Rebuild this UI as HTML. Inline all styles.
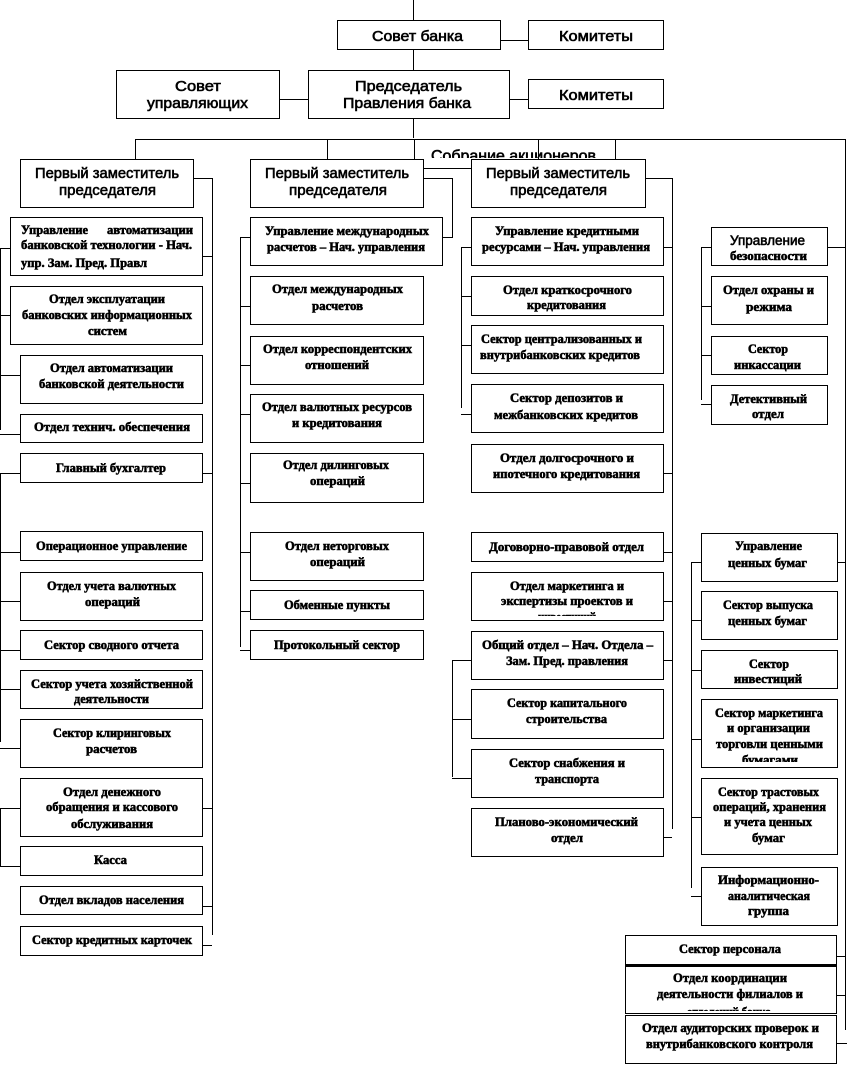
<!DOCTYPE html>
<html><head><meta charset="utf-8"><style>
html,body{margin:0;padding:0;background:#fff}
svg{display:block}
.s text{font-family:"Liberation Serif",serif;font-weight:bold;font-size:12.5px;fill:#000;stroke:#000;stroke-width:.55}
.b text{font-family:"Liberation Sans",sans-serif;font-size:15px;fill:#000;stroke:#000;stroke-width:.6}
</style></head><body>
<svg width="847" height="1066" viewBox="0 0 847 1066" xmlns="http://www.w3.org/2000/svg">
<rect width="847" height="1066" fill="#fff"/>
<g class="b"><text x="431" y="161" textLength="165" lengthAdjust="spacingAndGlyphs" style="font-size:16px">Собрание акционеров</text></g>
<rect x="424" y="158" width="200" height="12" fill="#fff"/>
<g class="s">
<text x="538" y="621" textLength="58" lengthAdjust="spacingAndGlyphs">инвестиций</text>
<text x="742" y="764" textLength="56" lengthAdjust="spacingAndGlyphs">бумагами</text>
<text x="687" y="1016" textLength="84" lengthAdjust="spacingAndGlyphs">отделений банка</text>
</g>
<rect x="530" y="616" width="75" height="8" fill="#fff"/>
<rect x="735" y="762" width="70" height="8" fill="#fff"/>
<rect x="680" y="1011" width="100" height="8" fill="#fff"/>
<g fill="none" stroke="#000" stroke-width="1" shape-rendering="crispEdges">
<path d="M413.5 0V20M413.5 49V70M413.5 118V138M500 40.5H528M279 99.5H308M509 99.5H528"/>
<path d="M135 139.5H845.5V1030M135.5 139V159M327.5 139V159M414.5 139V159M538.5 139V159M615.5 139V159M423 168.5H471"/>
<path d="M193 178.5H212.5V935M203 256.5H212M203 473.5H212M203 808.5H212M203 906.5H212M203 945.5H212"/>
<path d="M10 248.5H.5V430M0 315.5H10M0 375.5H20M0 434.5H20M20 473.5H.5V742M0 552.5H20M0 601.5H20M0 650.5H20M0 689.5H20M0 748.5H20M20 808.5H.5V866.5H20"/>
<path d="M423 178.5H452.5V237.5H442"/>
<path d="M250 237.5H240.5V647M240 306.5H250M240 365.5H250M240 414.5H250M240 483.5H250M240 552.5H250M240 611.5H250M240 650.5H250"/>
<path d="M471 247.5H461.5V408M461 296.5H471M461 345.5H471M461 414.5H471"/>
<path d="M645 178.5H672.5V829M663 247.5H672M663 473.5H672M663 552.5H672M663 601.5H672M663 660.5H672M663 837.5H672"/>
<path d="M471 660.5H452.5V777M452 719.5H471M452 778.5H471"/>
<path d="M711 247.5H701.5V400M701 306.5H711M701 355.5H711M701 404.5H711M827 247.5H845"/>
<path d="M701 562.5H691.5V888M691 620.5H701M691 670.5H701M691 739.5H701M691 817.5H701M691 896.5H701M837 562.5H845"/>
<path d="M836 956.5H845M836 995.5H845M836 1043.5H847"/>
</g>
<g fill="#fff" fill-opacity="0" stroke="#000" stroke-width="1" shape-rendering="crispEdges">
<rect x="337.5" y="20.5" width="163" height="29"/>
<rect x="528.5" y="20.5" width="135" height="29"/>
<rect x="116.5" y="70.5" width="163" height="48"/>
<rect x="308.5" y="70.5" width="201" height="48"/>
<rect x="528.5" y="79.5" width="135" height="29"/>
<rect x="20.5" y="159.5" width="173" height="48"/>
<rect x="250.5" y="159.5" width="173" height="48"/>
<rect x="471.5" y="159.5" width="174" height="48"/>
<rect x="10.5" y="217.5" width="192" height="58"/>
<rect x="10.5" y="286.5" width="192" height="58"/>
<rect x="20.5" y="355.5" width="182" height="48"/>
<rect x="20.5" y="414.5" width="182" height="28"/>
<rect x="20.5" y="453.5" width="182" height="29"/>
<rect x="20.5" y="531.5" width="182" height="29"/>
<rect x="20.5" y="572.5" width="182" height="48"/>
<rect x="20.5" y="630.5" width="182" height="29"/>
<rect x="20.5" y="670.5" width="182" height="38"/>
<rect x="20.5" y="719.5" width="182" height="48"/>
<rect x="20.5" y="778.5" width="182" height="58"/>
<rect x="20.5" y="846.5" width="182" height="29"/>
<rect x="20.5" y="886.5" width="182" height="28"/>
<rect x="20.5" y="926.5" width="182" height="29"/>
<rect x="250.5" y="217.5" width="192" height="48"/>
<rect x="250.5" y="276.5" width="173" height="48"/>
<rect x="250.5" y="336.5" width="173" height="48"/>
<rect x="250.5" y="394.5" width="173" height="48"/>
<rect x="250.5" y="453.5" width="173" height="49"/>
<rect x="250.5" y="532.5" width="173" height="48"/>
<rect x="250.5" y="590.5" width="173" height="29"/>
<rect x="250.5" y="630.5" width="173" height="29"/>
<rect x="471.5" y="217.5" width="192" height="48"/>
<rect x="471.5" y="276.5" width="192" height="39"/>
<rect x="471.5" y="325.5" width="192" height="48"/>
<rect x="471.5" y="384.5" width="192" height="48"/>
<rect x="471.5" y="444.5" width="192" height="48"/>
<rect x="471.5" y="532.5" width="192" height="29"/>
<rect x="471.5" y="572.5" width="192" height="48"/>
<rect x="471.5" y="631.5" width="192" height="48"/>
<rect x="471.5" y="689.5" width="192" height="49"/>
<rect x="471.5" y="749.5" width="192" height="48"/>
<rect x="471.5" y="808.5" width="192" height="48"/>
<rect x="711.5" y="227.5" width="116" height="38"/>
<rect x="711.5" y="276.5" width="116" height="48"/>
<rect x="711.5" y="336.5" width="116" height="38"/>
<rect x="711.5" y="385.5" width="116" height="39"/>
<rect x="701.5" y="533.5" width="136" height="48"/>
<rect x="701.5" y="591.5" width="136" height="48"/>
<rect x="701.5" y="650.5" width="136" height="38"/>
<rect x="701.5" y="699.5" width="136" height="68"/>
<rect x="701.5" y="778.5" width="136" height="76"/>
<rect x="701.5" y="867.5" width="136" height="58"/>
<rect x="625.5" y="935.5" width="211" height="29"/>
<path d="M625 965.5H837"/>
<rect x="625.5" y="966.5" width="211" height="47"/>
<rect x="625.5" y="1015.5" width="211" height="48"/>
</g>
<g class="b">
<text x="372" y="41" textLength="91" lengthAdjust="spacingAndGlyphs">Совет банка</text>
<text x="559" y="41" textLength="74" lengthAdjust="spacingAndGlyphs">Комитеты</text>
<text x="559" y="100" textLength="74" lengthAdjust="spacingAndGlyphs">Комитеты</text>
<text x="175" y="91" textLength="46" lengthAdjust="spacingAndGlyphs">Совет</text>
<text x="147" y="108" textLength="101" lengthAdjust="spacingAndGlyphs">управляющих</text>
<text x="355" y="91" textLength="107" lengthAdjust="spacingAndGlyphs">Председатель</text>
<text x="343" y="108" textLength="128" lengthAdjust="spacingAndGlyphs">Правления банка</text>
<text x="35" y="178" textLength="144" lengthAdjust="spacingAndGlyphs">Первый заместитель</text>
<text x="59" y="195" textLength="97" lengthAdjust="spacingAndGlyphs">председателя</text>
<text x="265" y="178" textLength="144" lengthAdjust="spacingAndGlyphs">Первый заместитель</text>
<text x="289" y="195" textLength="98" lengthAdjust="spacingAndGlyphs">председателя</text>
<text x="486" y="178" textLength="144" lengthAdjust="spacingAndGlyphs">Первый заместитель</text>
<text x="510" y="195" textLength="97" lengthAdjust="spacingAndGlyphs">председателя</text>
<text x="730" y="245" textLength="75" lengthAdjust="spacingAndGlyphs" style="font-size:14px">Управление</text>
</g>
<g class="s">
<text x="21" y="234" textLength="67" lengthAdjust="spacingAndGlyphs">Управление</text>
<text x="107" y="234" textLength="86" lengthAdjust="spacingAndGlyphs">автоматизации</text>
<text x="21" y="249" textLength="171" lengthAdjust="spacingAndGlyphs">банковской технологии - Нач.</text>
<text x="21" y="267" textLength="126" lengthAdjust="spacingAndGlyphs">упр. Зам. Пред. Правл</text>
<text x="49" y="303" textLength="116" lengthAdjust="spacingAndGlyphs">Отдел эксплуатации</text>
<text x="22" y="319" textLength="170" lengthAdjust="spacingAndGlyphs">банковских информационных</text>
<text x="88" y="335" textLength="39" lengthAdjust="spacingAndGlyphs">систем</text>
<text x="50" y="372" textLength="123" lengthAdjust="spacingAndGlyphs">Отдел автоматизации</text>
<text x="39" y="388" textLength="145" lengthAdjust="spacingAndGlyphs">банковской деятельности</text>
<text x="34" y="431" textLength="156" lengthAdjust="spacingAndGlyphs">Отдел технич. обеспечения</text>
<text x="56" y="472" textLength="110" lengthAdjust="spacingAndGlyphs">Главный бухгалтер</text>
<text x="36" y="550" textLength="151" lengthAdjust="spacingAndGlyphs">Операционное управление</text>
<text x="47" y="590" textLength="129" lengthAdjust="spacingAndGlyphs">Отдел учета валютных</text>
<text x="85" y="606" textLength="55" lengthAdjust="spacingAndGlyphs">операций</text>
<text x="44" y="649" textLength="135" lengthAdjust="spacingAndGlyphs">Сектор сводного отчета</text>
<text x="31" y="688" textLength="162" lengthAdjust="spacingAndGlyphs">Сектор учета хозяйственной</text>
<text x="74" y="703" textLength="75" lengthAdjust="spacingAndGlyphs">деятельности</text>
<text x="53" y="737" textLength="118" lengthAdjust="spacingAndGlyphs">Сектор клиринговых</text>
<text x="86" y="753" textLength="51" lengthAdjust="spacingAndGlyphs">расчетов</text>
<text x="63" y="796" textLength="98" lengthAdjust="spacingAndGlyphs">Отдел денежного</text>
<text x="46" y="811" textLength="132" lengthAdjust="spacingAndGlyphs">обращения и кассового</text>
<text x="71" y="828" textLength="82" lengthAdjust="spacingAndGlyphs">обслуживания</text>
<text x="94" y="864" textLength="33" lengthAdjust="spacingAndGlyphs">Касса</text>
<text x="39" y="904" textLength="145" lengthAdjust="spacingAndGlyphs">Отдел вкладов населения</text>
<text x="32" y="944" textLength="160" lengthAdjust="spacingAndGlyphs">Сектор кредитных карточек</text>

<text x="265" y="235" textLength="164" lengthAdjust="spacingAndGlyphs">Управление международных</text>
<text x="267" y="251" textLength="158" lengthAdjust="spacingAndGlyphs">расчетов – Нач. управления</text>
<text x="272" y="293" textLength="131" lengthAdjust="spacingAndGlyphs">Отдел международных</text>
<text x="312" y="310" textLength="51" lengthAdjust="spacingAndGlyphs">расчетов</text>
<text x="263" y="353" textLength="149" lengthAdjust="spacingAndGlyphs">Отдел корреспондентских</text>
<text x="305" y="369" textLength="64" lengthAdjust="spacingAndGlyphs">отношений</text>
<text x="262" y="411" textLength="150" lengthAdjust="spacingAndGlyphs">Отдел валютных ресурсов</text>
<text x="292" y="427" textLength="90" lengthAdjust="spacingAndGlyphs">и кредитования</text>
<text x="283" y="469" textLength="106" lengthAdjust="spacingAndGlyphs">Отдел дилинговых</text>
<text x="310" y="485" textLength="55" lengthAdjust="spacingAndGlyphs">операций</text>
<text x="285" y="550" textLength="104" lengthAdjust="spacingAndGlyphs">Отдел неторговых</text>
<text x="310" y="566" textLength="55" lengthAdjust="spacingAndGlyphs">операций</text>
<text x="284" y="609" textLength="106" lengthAdjust="spacingAndGlyphs">Обменные пункты</text>
<text x="274" y="649" textLength="126" lengthAdjust="spacingAndGlyphs">Протокольный сектор</text>

<text x="495" y="235" textLength="144" lengthAdjust="spacingAndGlyphs">Управление кредитными</text>
<text x="482" y="251" textLength="168" lengthAdjust="spacingAndGlyphs">ресурсами – Нач. управления</text>
<text x="503" y="294" textLength="129" lengthAdjust="spacingAndGlyphs">Отдел краткосрочного</text>
<text x="527" y="309" textLength="79" lengthAdjust="spacingAndGlyphs">кредитования</text>
<text x="481" y="343" textLength="161" lengthAdjust="spacingAndGlyphs">Сектор централизованных и</text>
<text x="480" y="359" textLength="160" lengthAdjust="spacingAndGlyphs">внутрибанковских кредитов</text>
<text x="510" y="402" textLength="113" lengthAdjust="spacingAndGlyphs">Сектор депозитов и</text>
<text x="494" y="419" textLength="144" lengthAdjust="spacingAndGlyphs">межбанковских кредитов</text>
<text x="500" y="462" textLength="134" lengthAdjust="spacingAndGlyphs">Отдел долгосрочного и</text>
<text x="493" y="478" textLength="147" lengthAdjust="spacingAndGlyphs">ипотечного кредитования</text>
<text x="489" y="551" textLength="155" lengthAdjust="spacingAndGlyphs">Договорно-правовой отдел</text>
<text x="510" y="590" textLength="114" lengthAdjust="spacingAndGlyphs">Отдел маркетинга и</text>
<text x="501" y="605" textLength="132" lengthAdjust="spacingAndGlyphs">экспертизы проектов и</text>
<text x="482" y="649" textLength="171" lengthAdjust="spacingAndGlyphs">Общий отдел – Нач. Отдела –</text>
<text x="506" y="665" textLength="122" lengthAdjust="spacingAndGlyphs">Зам. Пред. правления</text>
<text x="507" y="707" textLength="120" lengthAdjust="spacingAndGlyphs">Сектор капитального</text>
<text x="526" y="723" textLength="81" lengthAdjust="spacingAndGlyphs">строительства</text>
<text x="509" y="767" textLength="116" lengthAdjust="spacingAndGlyphs">Сектор снабжения и</text>
<text x="535" y="783" textLength="64" lengthAdjust="spacingAndGlyphs">транспорта</text>
<text x="495" y="826" textLength="143" lengthAdjust="spacingAndGlyphs">Планово-экономический</text>
<text x="551" y="842" textLength="32" lengthAdjust="spacingAndGlyphs">отдел</text>

<text x="730" y="260" textLength="77" lengthAdjust="spacingAndGlyphs">безопасности</text>
<text x="723" y="294" textLength="91" lengthAdjust="spacingAndGlyphs">Отдел охраны и</text>
<text x="746" y="311" textLength="46" lengthAdjust="spacingAndGlyphs">режима</text>
<text x="748" y="353" textLength="40" lengthAdjust="spacingAndGlyphs">Сектор</text>
<text x="734" y="369" textLength="67" lengthAdjust="spacingAndGlyphs">инкассации</text>
<text x="730" y="403" textLength="77" lengthAdjust="spacingAndGlyphs">Детективный</text>
<text x="752" y="418" textLength="32" lengthAdjust="spacingAndGlyphs">отдел</text>

<text x="735" y="550" textLength="67" lengthAdjust="spacingAndGlyphs">Управление</text>
<text x="728" y="567" textLength="79" lengthAdjust="spacingAndGlyphs">ценных бумаг</text>
<text x="723" y="609" textLength="90" lengthAdjust="spacingAndGlyphs">Сектор выпуска</text>
<text x="728" y="625" textLength="79" lengthAdjust="spacingAndGlyphs">ценных бумаг</text>
<text x="749" y="668" textLength="40" lengthAdjust="spacingAndGlyphs">Сектор</text>
<text x="734" y="683" textLength="68" lengthAdjust="spacingAndGlyphs">инвестиций</text>
<text x="715" y="717" textLength="108" lengthAdjust="spacingAndGlyphs">Сектор маркетинга</text>
<text x="727" y="732" textLength="83" lengthAdjust="spacingAndGlyphs">и организации</text>
<text x="716" y="748" textLength="107" lengthAdjust="spacingAndGlyphs">торговли ценными</text>
<text x="718" y="796" textLength="101" lengthAdjust="spacingAndGlyphs">Сектор трастовых</text>
<text x="713" y="811" textLength="113" lengthAdjust="spacingAndGlyphs">операций, хранения</text>
<text x="724" y="826" textLength="88" lengthAdjust="spacingAndGlyphs">и учета ценных</text>
<text x="752" y="842" textLength="33" lengthAdjust="spacingAndGlyphs">бумаг</text>
<text x="718" y="884" textLength="101" lengthAdjust="spacingAndGlyphs">Информационно-</text>
<text x="728" y="900" textLength="82" lengthAdjust="spacingAndGlyphs">аналитическая</text>
<text x="748" y="915" textLength="41" lengthAdjust="spacingAndGlyphs">группа</text>

<text x="679" y="953" textLength="102" lengthAdjust="spacingAndGlyphs">Сектор персонала</text>
<text x="673" y="982" textLength="114" lengthAdjust="spacingAndGlyphs">Отдел координации</text>
<text x="657" y="998" textLength="146" lengthAdjust="spacingAndGlyphs">деятельности филиалов и</text>
<text x="642" y="1032" textLength="177" lengthAdjust="spacingAndGlyphs">Отдел аудиторских проверок и</text>
<text x="646" y="1048" textLength="167" lengthAdjust="spacingAndGlyphs">внутрибанковского контроля</text>
</g>
</svg>
</body></html>
